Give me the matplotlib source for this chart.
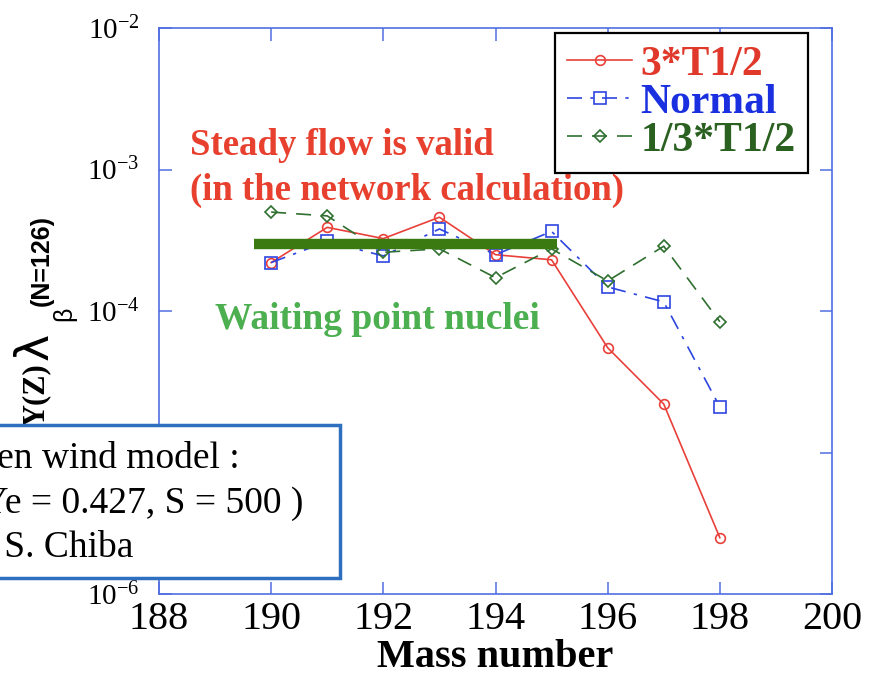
import matplotlib
matplotlib.use("Agg")
import matplotlib.pyplot as plt
from matplotlib.patches import Rectangle
from matplotlib.ticker import LogLocator, NullLocator

plt.rcParams['font.family'] = 'serif'
plt.rcParams['font.serif'] = ['Liberation Serif', 'DejaVu Serif']
plt.rcParams['mathtext.fontset'] = 'custom'
plt.rcParams['mathtext.rm'] = 'Liberation Serif'
plt.rcParams['mathtext.it'] = 'Liberation Serif:italic'
plt.rcParams['mathtext.bf'] = 'Liberation Serif:bold'
plt.rcParams['axes.unicode_minus'] = False

# mass numbers along the N=126 chain
mass = [190, 191, 192, 193, 194, 195, 196, 197, 198]

# Y(Z)*lambda_beta for three half-life scalings
y_3t = [2.2e-4, 3.9e-4, 3.25e-4, 4.6e-4, 2.5e-4, 2.3e-4, 5.5e-5, 2.2e-5, 2.5e-6]
y_normal = [2.2e-4, 3.1e-4, 2.45e-4, 3.8e-4, 2.5e-4, 3.65e-4, 1.48e-4, 1.16e-4, 2.1e-5]
y_third = [5.0e-4, 4.7e-4, 2.6e-4, 2.75e-4, 1.72e-4, 2.75e-4, 1.63e-4, 2.87e-4, 8.4e-5]

# steady-flow level across the waiting point nuclei
flow_mass = [189.7, 195.1]
flow_level = [2.96e-4, 2.96e-4]

labels = ['3*T1/2', 'Normal', '1/3*T1/2']
box_lines = ['Neutrino-driven wind model :', '( Ye = 0.427, S = 500 )', 'by  S. Chiba']

W, H = 878, 677
spine_col = '#4f6fe0'
red = '#e8403a'
blue = '#2d45e0'
green = '#2f6f2f'


def px(x, y):
    return x / W, 1 - y / H


fig = plt.figure(figsize=(W / 100, H / 100), dpi=100)
ax = fig.add_axes([159 / W, 1 - 594 / H, (832 - 159) / W, (594 - 28) / H])

ax.plot(mass, y_3t, '-', color=red, lw=1.2, marker='o', ms=7,
        mfc='none', mec=red, mew=1.2, label=labels[0])
ax.plot(mass, y_normal, color=blue, lw=1.2, ls=(0, (9, 5, 2, 5)), marker='s', ms=8,
        mfc='none', mec=blue, mew=1.2, label=labels[1])
ax.plot(mass, y_third, color=green, lw=1.2, ls=(0, (9, 6)), marker='D', ms=6,
        mfc='none', mec=green, mew=1.2, label=labels[2])
ax.plot(flow_mass, flow_level, color='#3a7a10', lw=7.5, solid_capstyle='butt')

ax.set_yscale('log')
ax.set_xlim(188, 200)
ax.set_ylim(1e-6, 1e-2)
ax.set_xticks(range(188, 201, 2))
ax.yaxis.set_major_locator(LogLocator(base=10, numticks=10))
ax.yaxis.set_minor_locator(NullLocator())

for s in ax.spines.values():
    s.set_color(spine_col)
    s.set_linewidth(1.2)
ax.tick_params(direction='in', length=9, width=1.1, color=spine_col,
               top=True, right=True)
ax.tick_params(axis='x', labelsize=29, pad=5)
ax.tick_params(axis='y', labelsize=21, pad=14)

ax.set_xlabel('Mass number', fontsize=29, fontweight='bold', labelpad=1)

# y label built from pieces: Y(Z) lambda_beta^(N=126)
fig.text(*px(36, 395), 'Y(Z)', rotation=90, ha='center', va='center',
         fontsize=22, fontweight='bold')
fig.text(*px(35, 346), '\u03bb', rotation=90, ha='center', va='center',
         fontsize=33, family='DejaVu Sans')
fig.text(*px(64, 314), '\u03b2', rotation=90, ha='center', va='center',
         fontsize=18, family='Liberation Sans')
fig.text(*px(42, 260), '(N=126)', rotation=90, ha='center', va='center',
         fontsize=18, fontweight='bold', family='Liberation Sans')

# annotations
ax.text(*px(190, 155), 'Steady flow is valid', transform=fig.transFigure,
        color='#e8402e', fontsize=26.5, fontweight='bold', va='baseline')
ax.text(*px(190, 200), '(in the network calculation)', transform=fig.transFigure,
        color='#e8402e', fontsize=26.5, fontweight='bold', va='baseline')
ax.text(*px(215, 329), 'Waiting point nuclei', transform=fig.transFigure,
        color='#4caf50', fontsize=27, fontweight='bold', va='baseline')

leg = ax.legend(loc='upper left', bbox_to_anchor=px(555, 33),
                bbox_transform=fig.transFigure, borderaxespad=0,
                handlelength=1.55, handletextpad=0.2,
                labelspacing=0.0, borderpad=0.3, fancybox=False,
                framealpha=1, prop={'weight': 'bold', 'size': 30})
leg.get_frame().set_edgecolor('black')
leg.get_frame().set_linewidth(1.6)
for t, c in zip(leg.get_texts(), ['#e0382a', '#1a30e0', '#2a6020']):
    t.set_color(c)

# model info box, overlapping the left axis
box = Rectangle(px(-10, 578), 350 / W, (578 - 425) / H, transform=fig.transFigure,
                facecolor='white', edgecolor='#2e6fc0', lw=2.5, zorder=10)
fig.add_artist(box)
for (x, y), s in zip([(240, 468), (303, 513), (133, 557)], box_lines):
    fig.text(*px(x, y), s, ha='right', va='baseline', fontsize=27, zorder=11)

fig.savefig('out.png', dpi=100)
